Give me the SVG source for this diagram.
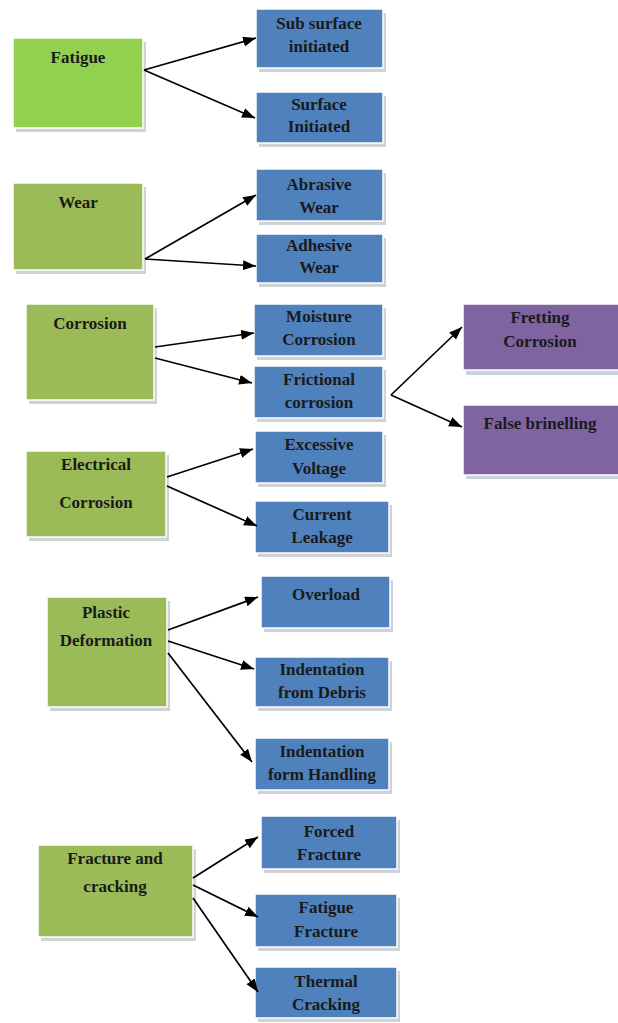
<svg xmlns="http://www.w3.org/2000/svg" width="618" height="1023" viewBox="0 0 618 1023">
<style>
.sh{fill:#cfd2d6}
.g1{fill:#92D050;stroke:#ffffff;stroke-width:1.5}
.g2{fill:#9BBB59;stroke:#ffffff;stroke-width:1.5}
.b{fill:#4F81BD;stroke:#ffffff;stroke-width:1.5}
.p{fill:#8064A2;stroke:#ffffff;stroke-width:1.5}
text{font-family:'Liberation Serif','DejaVu Serif','Times New Roman',serif;font-weight:bold;font-size:17px;fill:#1a1a1a;text-anchor:middle}
.c line{stroke:#000;stroke-width:1.7;marker-end:url(#ah)}
</style>
<defs>
<marker id="ah" markerUnits="userSpaceOnUse" markerWidth="14" markerHeight="11" refX="13" refY="5" orient="auto">
<path d="M0,0 L13,5 L0,10 z" fill="#000"/>
</marker>
</defs>
<rect width="618" height="1023" fill="#fff"/>

<g id="fatigue"><rect class="sh" x="16" y="42" width="130" height="90"/><rect class="g1" x="13" y="38" width="130" height="90"/><text x="78" y="63">Fatigue</text></g>
<g id="subsurface"><rect class="sh" x="259" y="13" width="127" height="59"/><rect class="b" x="256" y="9" width="127" height="59"/><text x="319" y="29">Sub surface</text><text x="319" y="52">initiated</text></g>
<g id="surface"><rect class="sh" x="259" y="96" width="127" height="51"/><rect class="b" x="256" y="92" width="127" height="51"/><text x="319" y="110">Surface</text><text x="319" y="132">Initiated</text></g>

<g id="wear"><rect class="sh" x="16" y="187" width="130" height="87"/><rect class="g2" x="13" y="183" width="130" height="87"/><text x="78" y="208">Wear</text></g>
<g id="abrasive"><rect class="sh" x="259" y="173" width="127" height="52"/><rect class="b" x="256" y="169" width="127" height="52"/><text x="319" y="190">Abrasive</text><text x="319" y="213">Wear</text></g>
<g id="adhesive"><rect class="sh" x="259" y="238" width="127" height="49"/><rect class="b" x="256" y="234" width="127" height="49"/><text x="319" y="251">Adhesive</text><text x="319" y="273">Wear</text></g>

<g id="corrosion"><rect class="sh" x="29" y="308" width="128" height="96"/><rect class="g2" x="26" y="304" width="128" height="96"/><text x="90" y="329">Corrosion</text></g>
<g id="moisture"><rect class="sh" x="257" y="308" width="129" height="52"/><rect class="b" x="254" y="304" width="129" height="52"/><text x="319" y="322">Moisture</text><text x="319" y="345">Corrosion</text></g>
<g id="frictional"><rect class="sh" x="257" y="370" width="129" height="52"/><rect class="b" x="254" y="366" width="129" height="52"/><text x="319" y="385">Frictional</text><text x="319" y="408">corrosion</text></g>
<g id="fretting"><rect class="sh" x="466" y="308" width="155" height="67"/><rect class="p" x="463" y="304" width="158" height="66"/><text x="540" y="323">Fretting</text><text x="540" y="347">Corrosion</text></g>
<g id="falsebrinelling"><rect class="sh" x="466" y="409" width="155" height="70"/><rect class="p" x="463" y="405" width="158" height="70"/><text x="540" y="429">False brinelling</text></g>

<g id="electrical"><rect class="sh" x="29" y="455" width="140" height="86"/><rect class="g2" x="26" y="451" width="140" height="86"/><text x="96" y="470">Electrical</text><text x="96" y="508">Corrosion</text></g>
<g id="excessive"><rect class="sh" x="258" y="435" width="128" height="52"/><rect class="b" x="255" y="431" width="128" height="52"/><text x="319" y="450">Excessive</text><text x="319" y="474">Voltage</text></g>
<g id="current"><rect class="sh" x="258" y="505" width="134" height="52"/><rect class="b" x="255" y="501" width="134" height="52"/><text x="322" y="520">Current</text><text x="322" y="543">Leakage</text></g>

<g id="plastic"><rect class="sh" x="50" y="601" width="120" height="110"/><rect class="g2" x="47" y="597" width="120" height="110"/><text x="106" y="618">Plastic</text><text x="106" y="646">Deformation</text></g>
<g id="overload"><rect class="sh" x="264" y="580" width="129" height="52"/><rect class="b" x="261" y="576" width="129" height="52"/><text x="326" y="600">Overload</text></g>
<g id="debris"><rect class="sh" x="258" y="661" width="134" height="50"/><rect class="b" x="255" y="657" width="134" height="50"/><text x="322" y="675">Indentation</text><text x="322" y="698">from Debris</text></g>
<g id="handling"><rect class="sh" x="258" y="742" width="134" height="52"/><rect class="b" x="255" y="738" width="134" height="52"/><text x="322" y="757">Indentation</text><text x="322" y="780">form Handling</text></g>

<g id="fracture"><rect class="sh" x="41" y="849" width="155" height="92"/><rect class="g2" x="38" y="845" width="155" height="92"/><text x="115" y="864">Fracture and</text><text x="115" y="892">cracking</text></g>
<g id="forced"><rect class="sh" x="264" y="820" width="136" height="53"/><rect class="b" x="261" y="816" width="136" height="53"/><text x="329" y="837">Forced</text><text x="329" y="860">Fracture</text></g>
<g id="fatiguefracture"><rect class="sh" x="258" y="898" width="142" height="53"/><rect class="b" x="255" y="894" width="142" height="53"/><text x="326" y="913">Fatigue</text><text x="326" y="937">Fracture</text></g>
<g id="thermal"><rect class="sh" x="258" y="971" width="142" height="51"/><rect class="b" x="255" y="967" width="142" height="51"/><text x="326" y="987">Thermal</text><text x="326" y="1010">Cracking</text></g>

<g class="c" id="connectors">
<line x1="144" y1="70" x2="256" y2="38"/>
<line x1="144" y1="70" x2="255" y2="118"/>
<line x1="145" y1="259" x2="256" y2="195"/>
<line x1="145" y1="259" x2="256" y2="266"/>
<line x1="155" y1="347" x2="254" y2="333"/>
<line x1="155" y1="358" x2="252" y2="383"/>
<line x1="391" y1="395" x2="462" y2="327"/>
<line x1="391" y1="395" x2="462" y2="427"/>
<line x1="167" y1="477" x2="253" y2="449"/>
<line x1="167" y1="486" x2="257" y2="526"/>
<line x1="168" y1="630" x2="258" y2="597"/>
<line x1="168" y1="641" x2="254" y2="669"/>
<line x1="168" y1="653" x2="252" y2="762"/>
<line x1="193" y1="878" x2="258" y2="837"/>
<line x1="193" y1="885" x2="258" y2="917"/>
<line x1="193" y1="898" x2="258" y2="992"/>
</g>
</svg>
